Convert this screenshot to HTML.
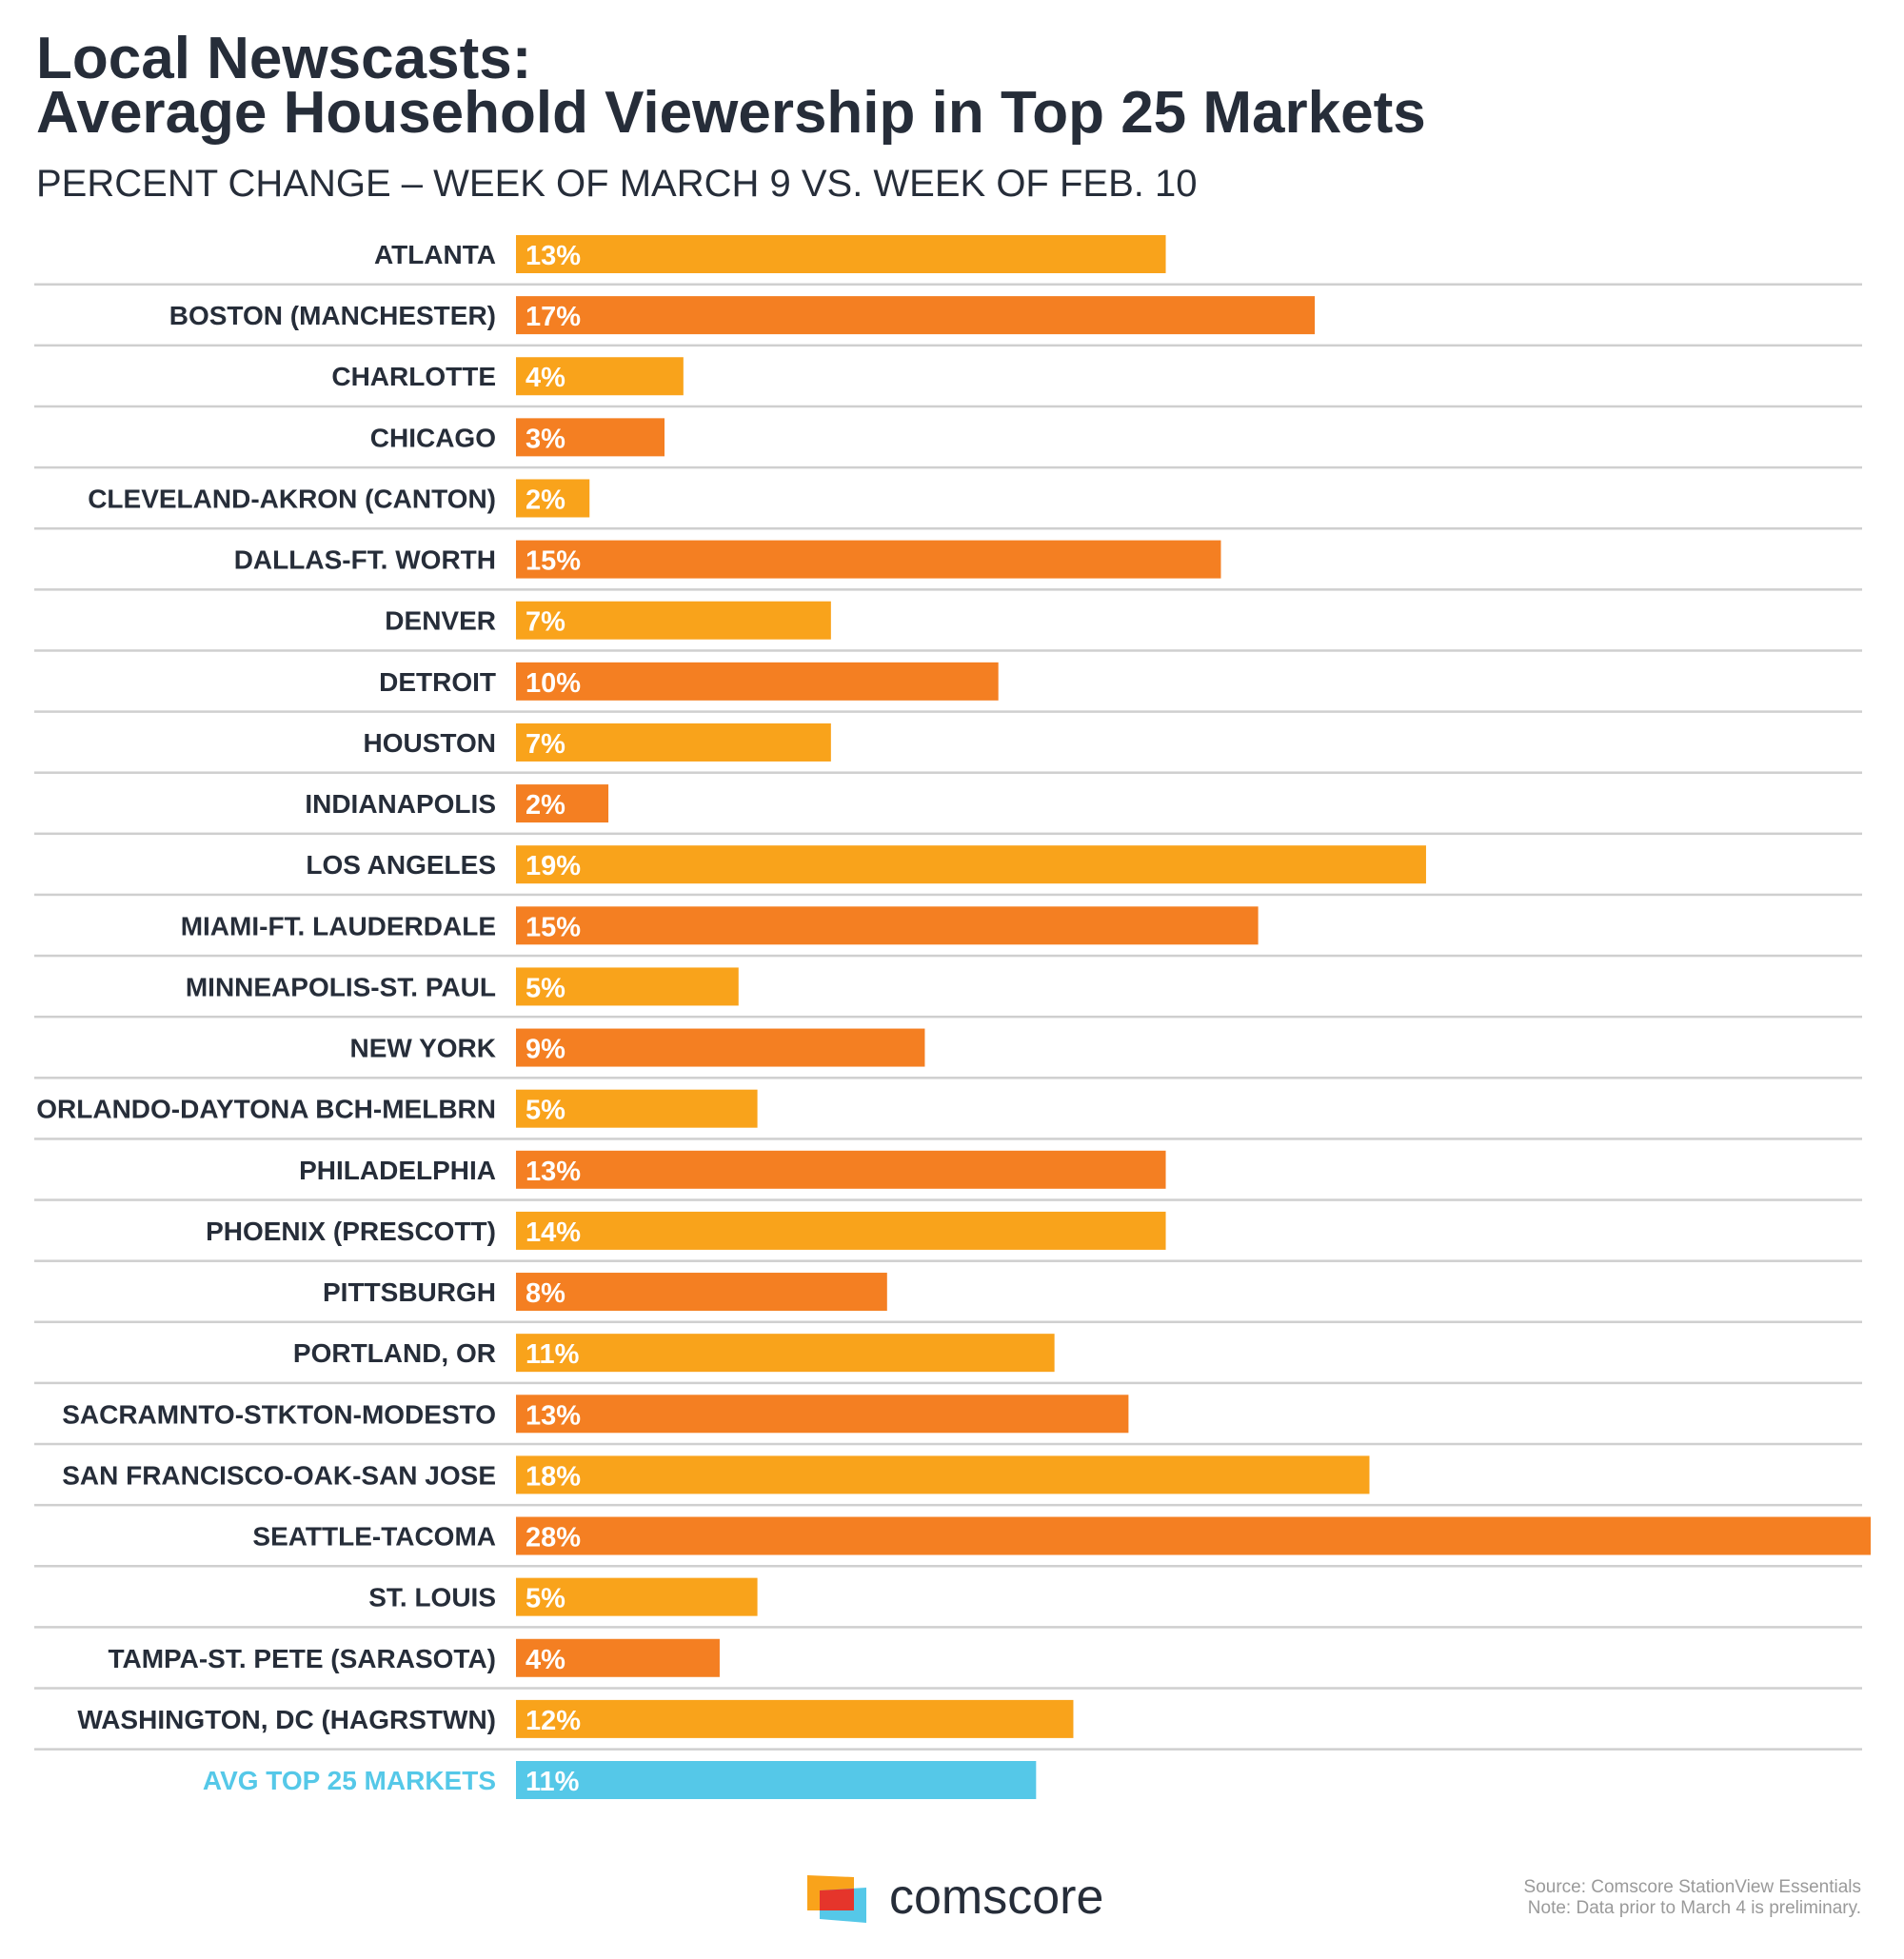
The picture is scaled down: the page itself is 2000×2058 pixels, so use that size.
<!DOCTYPE html>
<html><head><meta charset="utf-8"><style>
html,body{margin:0;padding:0;background:#fff;}
svg{display:block;}
</style></head><body>
<svg id="chart" width="2000" height="2058" viewBox="0 0 2000 2058" xmlns="http://www.w3.org/2000/svg">
<text x="38" y="82" font-family="Liberation Sans, sans-serif" font-weight="bold" font-size="62" fill="#262d39">Local Newscasts:</text>
<text x="38" y="139" font-family="Liberation Sans, sans-serif" font-weight="bold" font-size="62" fill="#262d39">Average Household Viewership in Top 25 Markets</text>
<text x="38" y="206" font-family="Liberation Sans, sans-serif" font-size="40" fill="#262d39">PERCENT CHANGE – WEEK OF MARCH 9 VS. WEEK OF FEB. 10</text>
<g id="rows"></g>
<g>
<polygon points="848,1970 897,1972 897,2007 848,2007" fill="#f9a31b"/>
<polygon points="861,1986 910,1983 910,2020 861,2016" fill="#55c8e8"/>
<polygon points="861,1986 897,1984 897,2007 861,2007" fill="#e5352b"/>
<text x="934" y="2010" font-family="Liberation Sans, sans-serif" font-size="52" fill="#262d39">comscore</text>
</g>
<text x="1955" y="1988" text-anchor="end" font-family="Liberation Sans, sans-serif" font-size="19" fill="#9a9a9a">Source: Comscore StationView Essentials</text>
<text x="1955" y="2010" text-anchor="end" font-family="Liberation Sans, sans-serif" font-size="19" fill="#9a9a9a">Note: Data prior to March 4 is preliminary.</text>
</svg>
<script>
const categories = ["ATLANTA","BOSTON (MANCHESTER)","CHARLOTTE","CHICAGO","CLEVELAND-AKRON (CANTON)","DALLAS-FT. WORTH","DENVER","DETROIT","HOUSTON","INDIANAPOLIS","LOS ANGELES","MIAMI-FT. LAUDERDALE","MINNEAPOLIS-ST. PAUL","NEW YORK","ORLANDO-DAYTONA BCH-MELBRN","PHILADELPHIA","PHOENIX (PRESCOTT)","PITTSBURGH","PORTLAND, OR","SACRAMNTO-STKTON-MODESTO","SAN FRANCISCO-OAK-SAN JOSE","SEATTLE-TACOMA","ST. LOUIS","TAMPA-ST. PETE (SARASOTA)","WASHINGTON, DC (HAGRSTWN)","AVG TOP 25 MARKETS"];
const values = [13.43,16.51,3.46,3.07,1.52,14.57,6.51,9.97,6.51,1.91,18.81,15.34,4.60,8.45,4.99,13.43,13.43,7.67,11.13,12.66,17.64,28,4.99,4.21,11.52,10.75];
const valueLabels = ["13%","17%","4%","3%","2%","15%","7%","10%","7%","2%","19%","15%","5%","9%","5%","13%","14%","8%","11%","13%","18%","28%","5%","4%","12%","11%"];
const NS="http://www.w3.org/2000/svg";
const g=document.getElementById('rows');
const x0=542, xMax=1965, vMax=28;
const xScale=v=>x0+(v/vMax)*(xMax-x0);
const rowTop=247, pitch=64.12, barH=40;
const yScale=i=>rowTop+i*pitch;
function mk(tag,attrs){const e=document.createElementNS(NS,tag);for(const k in attrs)e.setAttribute(k,attrs[k]);return e;}
categories.forEach((c,i)=>{
  const y=yScale(i);
  const isAvg=i===categories.length-1;
  const col=isAvg?"#55c8e8":(i%2===0?"#f9a31b":"#f47f22");
  const bar=mk('rect',{x:x0,y:y,width:xScale(values[i])-x0,height:barH,fill:col});
  
  
  g.appendChild(bar);
  const lab=mk('text',{x:521,y:y+30,'text-anchor':'end','font-family':'Liberation Sans, sans-serif','font-weight':'bold','font-size':'28',fill:isAvg?'#55c8e8':'#262d39'});
  lab.textContent=c;
  
  
  g.appendChild(lab);
  const vl=mk('text',{x:552,y:y+31,'font-family':'Liberation Sans, sans-serif','font-weight':'bold','font-size':'29',fill:'#fff'});
  vl.textContent=valueLabels[i];
  
  
  g.appendChild(vl);
  if(!isAvg){
    const ln=mk('rect',{x:36,y:y+barH+10.5,width:1920,height:2.5,fill:'#cfcfcf'});
    
    
    g.appendChild(ln);
  }
});
</script>
</body></html>
